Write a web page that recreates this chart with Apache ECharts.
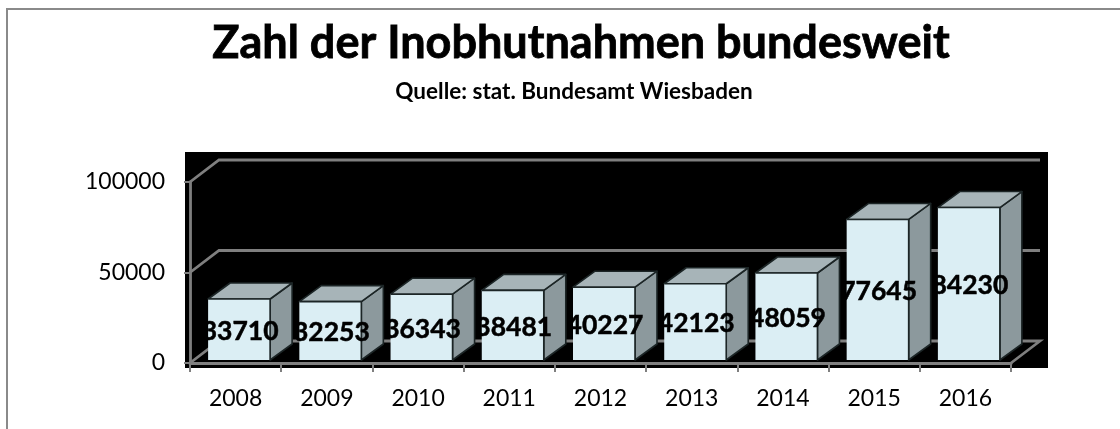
<!DOCTYPE html>
<html><head><meta charset="utf-8">
<style>html,body{margin:0;padding:0;background:#fff}#c{width:1120px;height:429px}</style>
<script src="https://cdn.jsdelivr.net/npm/echarts@6/dist/echarts.min.js"></script>
</head><body><div id="c"></div>
<script>
const years = ['2008','2009','2010','2011','2012','2013','2014','2015','2016'];
const counts = [33710,32253,36343,38481,40227,42123,48059,77645,84230];
const wallTicks = [0,50000,100000];
const titleText = 'Zahl der Inobhutnahmen bundesweit';
const subtitleText = 'Quelle: stat. Bundesamt Wiesbaden';

const FONT = 'Lato, "Open Sans", sans-serif';
const GRAY = '#7f7f7f', EDGE = '#1c2526';
const chart = echarts.init(document.getElementById('c'), null, {renderer:'canvas'});

function wall(params, api){
  const v = api.value(0), cs = params.coordSys;
  const y = api.coord([0, v])[1], x0 = cs.x, x1 = cs.x + cs.width, dx = 29, dy = 22;
  const pts = [[x0,y],[x0+dx,y-dy],[x1+dx,y-dy]];
  if (v === 0) pts.push([x1,y]);
  return {type:'polyline', shape:{points:pts}, style:{fill:'none', stroke:GRAY, lineWidth:2.8}};
}
function bar(params, api){
  const i = api.value(0), v = api.value(1);
  const band = api.size([1,0])[0];
  const c = api.coord([i, v]), b = api.coord([i, 0]);
  const w = 62, ox = 3.5, oy = -3, dx = 22, dy = 16;
  const L = c[0] - w/2 + ox, R = L + w, T = c[1] + oy, B = b[1] + oy;
  const line = {stroke:EDGE, lineWidth:1.6, lineJoin:'round'};
  return {type:'group', children:[
    {type:'polygon', shape:{points:[[R,T],[R+dx,T-dy],[R+dx,B-dy],[R,B]]}, style:Object.assign({fill:'#8c999d'}, line)},
    {type:'polygon', shape:{points:[[L,T],[L+dx,T-dy],[R+dx,T-dy],[R,T]]}, style:Object.assign({fill:'#a7b4b8'}, line)},
    {type:'rect', shape:{x:L,y:T,width:w,height:B-T}, style:{fill:'#dbeef4', stroke:null}},
    {type:'polyline', shape:{points:[[L,T],[R,T],[R,B]]}, style:Object.assign({fill:'none'}, line)},
    {type:'text', z2:10,
      clipPath:{type:'rect', shape:{x:L-3,y:0,width:band,height:429}},
      style:{text:String(v), x:(L+R)/2+1, y:(T+B)/2+2, align:'center', verticalAlign:'middle',
             fill:'#000', stroke:'#000', lineWidth:0.5, font:'bold 26.5px '+FONT}}
  ]};
}

chart.setOption({
  animation:false,
  backgroundColor:'#fff',
  title:[
    {text:titleText, left:576, top:16, textAlign:'center',
     textStyle:{fontFamily:FONT, fontWeight:'bold', fontSize:45, color:'#000', textBorderColor:'#000', textBorderWidth:0.8}},
    {text:subtitleText, left:569, top:75, textAlign:'center',
     textStyle:{fontFamily:FONT, fontWeight:'bold', fontSize:22.5, color:'#000'}}
  ],
  graphic:{z:-1, elements:[
    {type:'rect', silent:true, z:-5, shape:{x:185,y:152,width:863,height:216}, style:{fill:'#000'}},
    {type:'polyline', silent:true, z:-5, shape:{points:[[7,429],[7,9],[1120,9]]}, style:{fill:'none',stroke:'#8a8a8a',lineWidth:2}}
  ]},
  grid:{left:190, right:109, top:182, bottom:66},
  xAxis:{type:'category', data:years, boundaryGap:true,
    axisLine:{lineStyle:{color:GRAY,width:3}},
    axisTick:{show:true,length:9,lineStyle:{color:GRAY,width:2}},
    axisLabel:{fontFamily:FONT,fontSize:23,color:'#000',margin:24},
    splitLine:{show:false}, z:3},
  yAxis:{type:'value', min:0, max:100000, interval:50000,
    axisLine:{show:true,lineStyle:{color:GRAY,width:2.8}},
    axisTick:{show:true,length:6,lineStyle:{color:GRAY,width:2}},
    axisLabel:{fontFamily:FONT,fontSize:23,color:'#000',margin:25,formatter:v=>String(v)},
    splitLine:{show:false}, z:3},
  series:[
    {type:'custom', name:'Wand', coordinateSystem:'cartesian2d', clip:false, silent:true, z:1,
     encode:{y:0}, data:wallTicks.map(v=>[v]), renderItem:wall},
    {type:'custom', name:'Inobhutnahmen', coordinateSystem:'cartesian2d', clip:false, z:5,
     encode:{x:0,y:1}, data:counts.map((v,i)=>[i,v]), renderItem:bar}
  ]
});
</script></body></html>
